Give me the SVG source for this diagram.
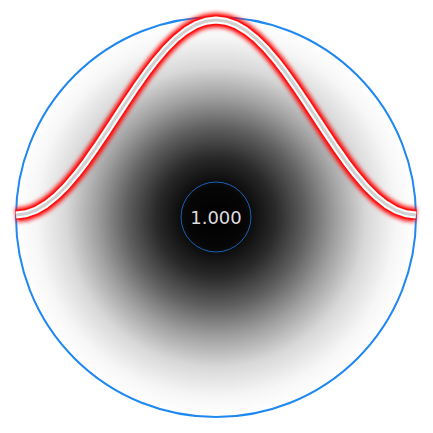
<svg xmlns="http://www.w3.org/2000/svg" width="433" height="433" viewBox="0 0 433 433">
<style>
.curve{fill:none;stroke-linejoin:round}
</style>
<defs>
<radialGradient id="bg" cx="216" cy="217" r="200" gradientUnits="userSpaceOnUse">
<stop offset="0" stop-color="#000"/>
<stop offset="0.15" stop-color="#060606"/>
<stop offset="0.3" stop-color="#2a2a2a"/>
<stop offset="0.45" stop-color="#606060"/>
<stop offset="0.6" stop-color="#a0a0a0"/>
<stop offset="0.75" stop-color="#d8d8d8"/>
<stop offset="0.9" stop-color="#f6f6f6"/>
<stop offset="1" stop-color="#fff"/>
</radialGradient>
<filter id="glow" x="-10%" y="-10%" width="120%" height="120%">
<feGaussianBlur stdDeviation="2.2"/>
</filter>
<path id="c" d="M16,215 L26,213.8 L36,210.23 L46,204.37 L56,196.38 L66,186.44 L76,174.81 L86,161.76 L96,147.63 L106,132.75 L116,117.5 L126,102.25 L136,87.37 L146,73.24 L156,60.19 L166,48.56 L176,38.62 L186,30.63 L196,24.77 L206,21.2 L216,20 L226,21.2 L236,24.77 L246,30.63 L256,38.62 L266,48.56 L276,60.19 L286,73.24 L296,87.37 L306,102.25 L316,117.5 L326,132.75 L336,147.63 L346,161.76 L356,174.81 L366,186.44 L376,196.38 L386,204.37 L396,210.23 L406,213.8 L416,215"/>
</defs>
<g id="field">
<circle cx="216" cy="217" r="200" fill="url(#bg)" stroke="#1e88f0" stroke-width="2"/>
</g>
<g id="connectors">
<use href="#c" class="curve" stroke="#ff0000" stroke-width="14" filter="url(#glow)"/>
<use href="#c" class="curve" stroke="#ff1010" stroke-width="10"/>
<use href="#c" class="curve" stroke="#ffffff" stroke-width="7"/>
<use href="#c" class="curve" stroke="#d0d0d0" stroke-width="3"/>
</g>
<g id="center">
<circle cx="216" cy="217" r="35" fill="none" stroke="#1a5fb4" stroke-width="1"/>
<text x="216" y="224" font-family="DejaVu Sans, sans-serif" font-size="18" fill="#dddddd" text-anchor="middle">1.000</text>
</g>
</svg>
